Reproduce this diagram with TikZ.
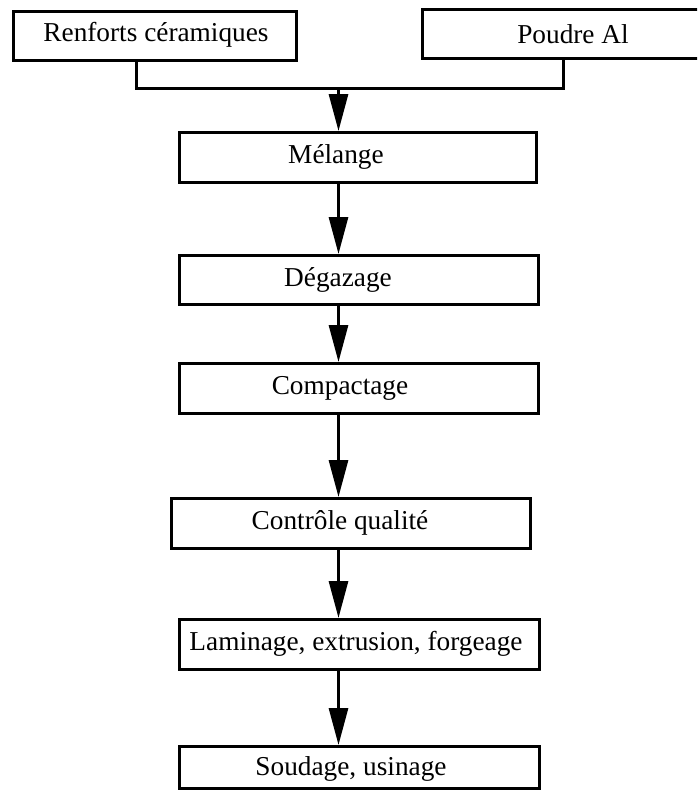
\documentclass[tikz,border=0pt]{standalone}
\usepackage{fontspec}
\setmainfont{Liberation Serif}
\usetikzlibrary{arrows.meta}
\begin{document}
\begin{tikzpicture}[x=1pt,y=-1pt,
  box/.style={draw=black, line width=3pt, inner sep=0pt, anchor=north west},
  txt/.style={font=\fontsize{27.3}{32}\selectfont, inner sep=0pt},
  ln/.style={line width=3pt},
  arr/.style={line width=3pt, -{Triangle[length=37pt,width=19pt]}}]
\clip (0,0) rectangle (697,790);
\fill[white] (0,0) rectangle (697,790);
% input boxes
\node[box, minimum width=283pt, minimum height=49pt] (r) at (12,10) {};
\node[txt] (rt) at (156,35) {Renforts céramiques};
\node[box, minimum width=304pt, minimum height=49pt] (p) at (421,8) {};
\node[txt] (pt) at (573,34) {Poudre Al};
% process boxes
\node[box, minimum width=357pt, minimum height=50pt] (m) at (178,131) {};
\node[txt] (mt) at (336,157) {Mélange};
\node[box, minimum width=359pt, minimum height=49pt] (d) at (178,254) {};
\node[txt] (dt) at (338,280) {Dégazage};
\node[box, minimum width=359pt, minimum height=50pt] (c) at (178,362) {};
\node[txt] (ct) at (340,388) {Compactage};
\node[box, minimum width=359pt, minimum height=50pt] (q) at (170,497) {};
\node[txt] (qt) at (340,523) {Contrôle qualité};
\node[box, minimum width=360pt, minimum height=50pt] (l) at (178,618) {};
\node[txt] (lt) at (356,644) {Laminage, extrusion, forgeage};
\node[box, minimum width=360pt, minimum height=42pt] (s) at (178,745) {};
\node[txt] (st) at (351,769) {Soudage, usinage};
% connectors
\coordinate (rc) at (136,88);
\coordinate (pc) at (563,88);
\coordinate (ax) at (338.5,0);
\draw[ln] (r.south -| rc) -- (rc) -- (pc) -- (p.south -| pc);
\draw[arr] (ax |- rc) -- (m.north -| ax);
\draw[arr] (m.south -| ax) -- (d.north -| ax);
\draw[arr] (d.south -| ax) -- (c.north -| ax);
\draw[arr] (c.south -| ax) -- (q.north -| ax);
\draw[arr] (q.south -| ax) -- (l.north -| ax);
\draw[arr] (l.south -| ax) -- (s.north -| ax);
\end{tikzpicture}
\end{document}
